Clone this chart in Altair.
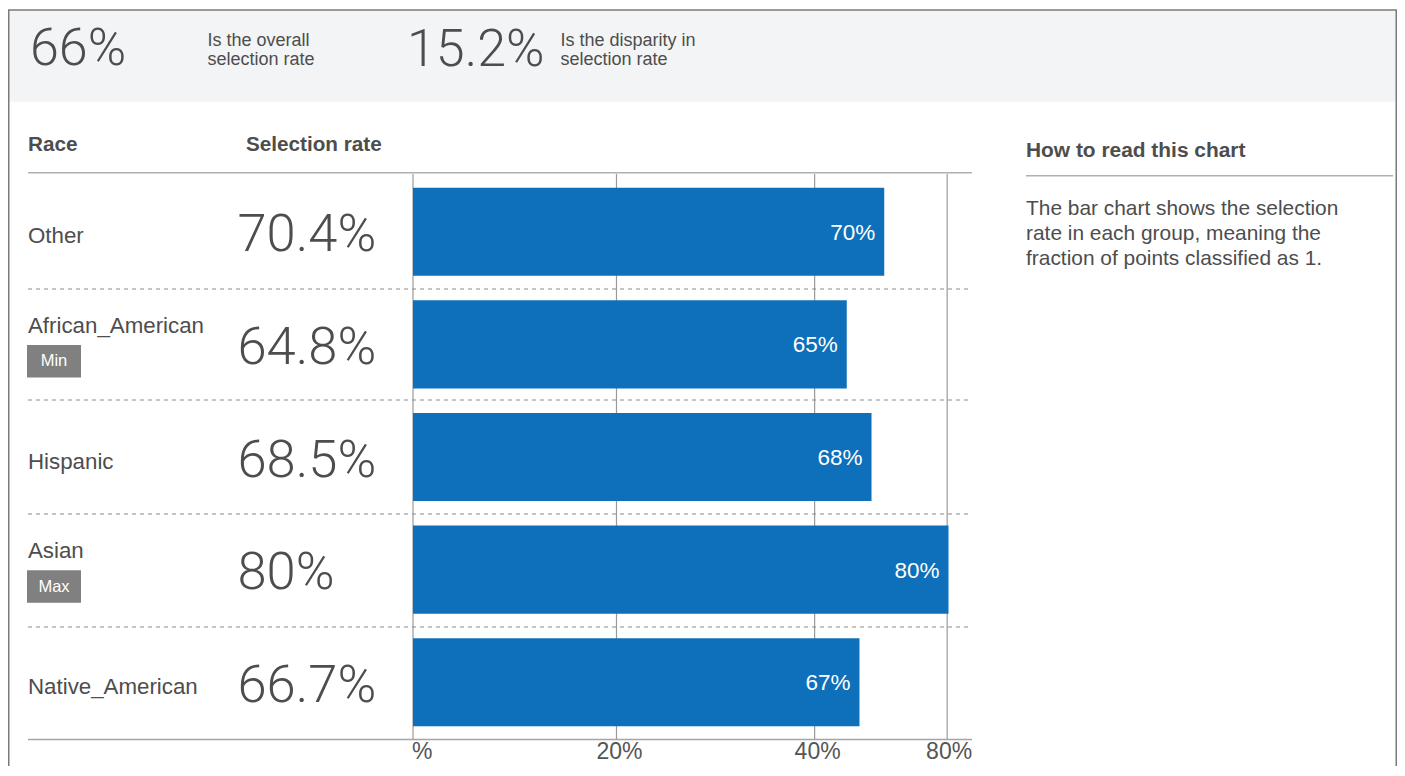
import altair as alt
import pandas as pd

# ---- data ----
races = ["Other", "African_American", "Hispanic", "Asian", "Native_American"]
rates = [0.704, 0.648, 0.685, 0.80, 0.667]
rate_labels = ["70.4%", "64.8%", "68.5%", "80%", "66.7%"]
bar_labels = ["70%", "65%", "68%", "80%", "67%"]
badges = ["", "Min", "", "Max", ""]
tick_values = [0.0, 0.304, 0.6, 0.798]
tick_labels = ["%", "20%", "40%", "80%"]
overall_rate = "66%"
overall_text = "Is the overall\nselection rate"
disparity = "15.2%"
disparity_text = "Is the disparity in\nselection rate"
col_headers = ["Race", "Selection rate"]
panel_title = "How to read this chart"
panel_text = "The bar chart shows the selection\nrate in each group, meaning the\nfraction of points classified as 1."

rows = pd.DataFrame({"race": races, "rate": rates, "rate_label": rate_labels,
                     "bar_label": bar_labels, "badge": badges})
ticks = pd.DataFrame({"tick": tick_values, "label": tick_labels})

FONT = "Liberation Sans"
NUMFONT = "Roboto"
TXT = "#4d4d4d"
BLUE = "#0e70ba"
W, H = 1389, 758

xs = alt.Scale(domain=[0, 0.8], range=[405, 940.5], nice=False, zero=True)
ys = alt.Scale(domain=races, range=[167.5, 730.5], paddingInner=0.218, paddingOuter=0.109)
Y = alt.Y("race:N", scale=ys, axis=None)


def txt(s, x, y, size, color=TXT, weight="normal", font=FONT, align="left", lh=None):
    return alt.Chart(pd.DataFrame({"t": [s]})).mark_text(
        align=align, baseline="alphabetic", fontSize=size, font=font,
        fontWeight=weight, color=color, lineBreak="\n",
        lineHeight=lh if lh else size * 1.2,
    ).encode(text="t:N", x=alt.value(x), y=alt.value(y))


def hrule(x1, x2, y, color, width, dash=None):
    kw = dict(color=color, strokeWidth=width)
    if dash:
        kw["strokeDash"] = dash
    return alt.Chart(pd.DataFrame({"a": [0]})).mark_rule(**kw).encode(
        x=alt.value(x1), x2=alt.value(x2), y=alt.value(y))


layers = []

# header band
layers.append(alt.Chart(pd.DataFrame({"a": [0]})).mark_rect(color="#f3f4f6").encode(
    x=alt.value(0), x2=alt.value(W - 1), y=alt.value(2), y2=alt.value(93.7)))

# header stats
layers.append(txt(overall_rate, 22, 57, 52, font=NUMFONT, weight=300))
layers.append(txt(overall_text, 199.5, 37.7, 18, lh=19.5))
layers.append(txt(disparity, 399, 57.5, 52, font=NUMFONT, weight=300))
layers.append(txt(disparity_text, 552.5, 37.7, 18, lh=19.5))

# column headers
layers.append(txt(col_headers[0], 20, 143, 20.7, weight="bold"))
layers.append(txt(col_headers[1], 238, 143, 20.7, weight="bold"))
layers.append(hrule(20, 964, 164.7, "#b0b0b0", 1.5))

# gridlines
layers.append(alt.Chart(ticks).mark_rule(color="#9a9a9a", strokeWidth=1.2).encode(
    x=alt.X("tick:Q", scale=xs, axis=None), y=alt.value(166), y2=alt.value(731)))

# bars
layers.append(alt.Chart(rows).mark_bar(color=BLUE).encode(
    x=alt.X("rate:Q", scale=xs, axis=None), x2=alt.value(405.6), y=Y))

# bar labels
layers.append(alt.Chart(rows).mark_text(
    align="right", baseline="alphabetic", dx=-9, dy=8, fontSize=22.5, font=FONT, color="white"
).encode(x=alt.X("rate:Q", scale=xs, axis=None), y=Y, text="bar_label:N"))

# row dividers
for yy in [281, 392, 506, 619]:
    layers.append(hrule(20, 964, yy, "#8a8a8a", 1, [4, 4]))
layers.append(hrule(20, 964, 731.5, "#a5a5a5", 1.5))

# race labels
layers.append(alt.Chart(rows).transform_filter(alt.datum.badge == "").mark_text(
    align="left", baseline="alphabetic", dy=11.5, fontSize=22.3, font=FONT, color=TXT
).encode(x=alt.value(20), y=Y, text="race:N"))
layers.append(alt.Chart(rows).transform_filter(alt.datum.badge != "").mark_text(
    align="left", baseline="alphabetic", dy=-11.5, fontSize=22.3, font=FONT, color=TXT
).encode(x=alt.value(20), y=Y, text="race:N"))

# badges
badge_shape = "M-1,0.02 L1,0.02 L1,1.23 L-1,1.23 Z"
layers.append(alt.Chart(rows).transform_filter(alt.datum.badge != "").mark_point(
    shape=badge_shape, size=2916, filled=True, color="#808080", opacity=1, strokeWidth=0
).encode(x=alt.value(46), y=Y))
layers.append(alt.Chart(rows).transform_filter(alt.datum.badge != "").mark_text(
    align="center", baseline="alphabetic", dy=22, fontSize=16.5, font=FONT, color="white"
).encode(x=alt.value(46), y=Y, text="badge:N"))

# big rate values
layers.append(alt.Chart(rows).mark_text(
    align="left", baseline="alphabetic", dy=19.5, fontSize=52.5, font=NUMFONT, fontWeight=300, color=TXT
).encode(x=alt.value(229.5), y=Y, text="rate_label:N"))

# x tick labels
tl = alt.Chart(ticks)
lab = dict(baseline="alphabetic", fontSize=23, font=FONT, color="#555555")
layers.append(tl.transform_filter(alt.datum.tick == tick_values[0]).mark_text(align="left", dx=-1, **lab).encode(
    x=alt.X("tick:Q", scale=xs, axis=None), y=alt.value(751), text="label:N"))
layers.append(tl.transform_filter((alt.datum.tick > tick_values[0]) & (alt.datum.tick < tick_values[-1])).mark_text(
    align="center", dx=3, **lab).encode(
    x=alt.X("tick:Q", scale=xs, axis=None), y=alt.value(751), text="label:N"))
layers.append(tl.transform_filter(alt.datum.tick == tick_values[-1]).mark_text(align="right", dx=25, **lab).encode(
    x=alt.X("tick:Q", scale=xs, axis=None), y=alt.value(751), text="label:N"))

# right panel
layers.append(txt(panel_title, 1018, 148.5, 20.9, weight="bold"))
layers.append(hrule(1018, 1385, 167.7, "#b0b0b0", 1.5))
layers.append(txt(panel_text, 1018, 206.6, 20.9, lh=25))

# outer border
layers.append(alt.Chart(pd.DataFrame({"a": [0]})).mark_rect(
    fill="transparent", stroke="#7a7a7a", strokeWidth=1.5).encode(
    x=alt.value(0.75), x2=alt.value(W - 0.75), y=alt.value(2), y2=alt.value(900)))

chart = alt.layer(*layers).properties(
    width=W, height=H, padding=0,
    autosize=alt.AutoSizeParams(type="none"),
).configure_view(strokeWidth=0)

chart.save("out.html", embed_options={"renderer": "svg", "actions": False})
